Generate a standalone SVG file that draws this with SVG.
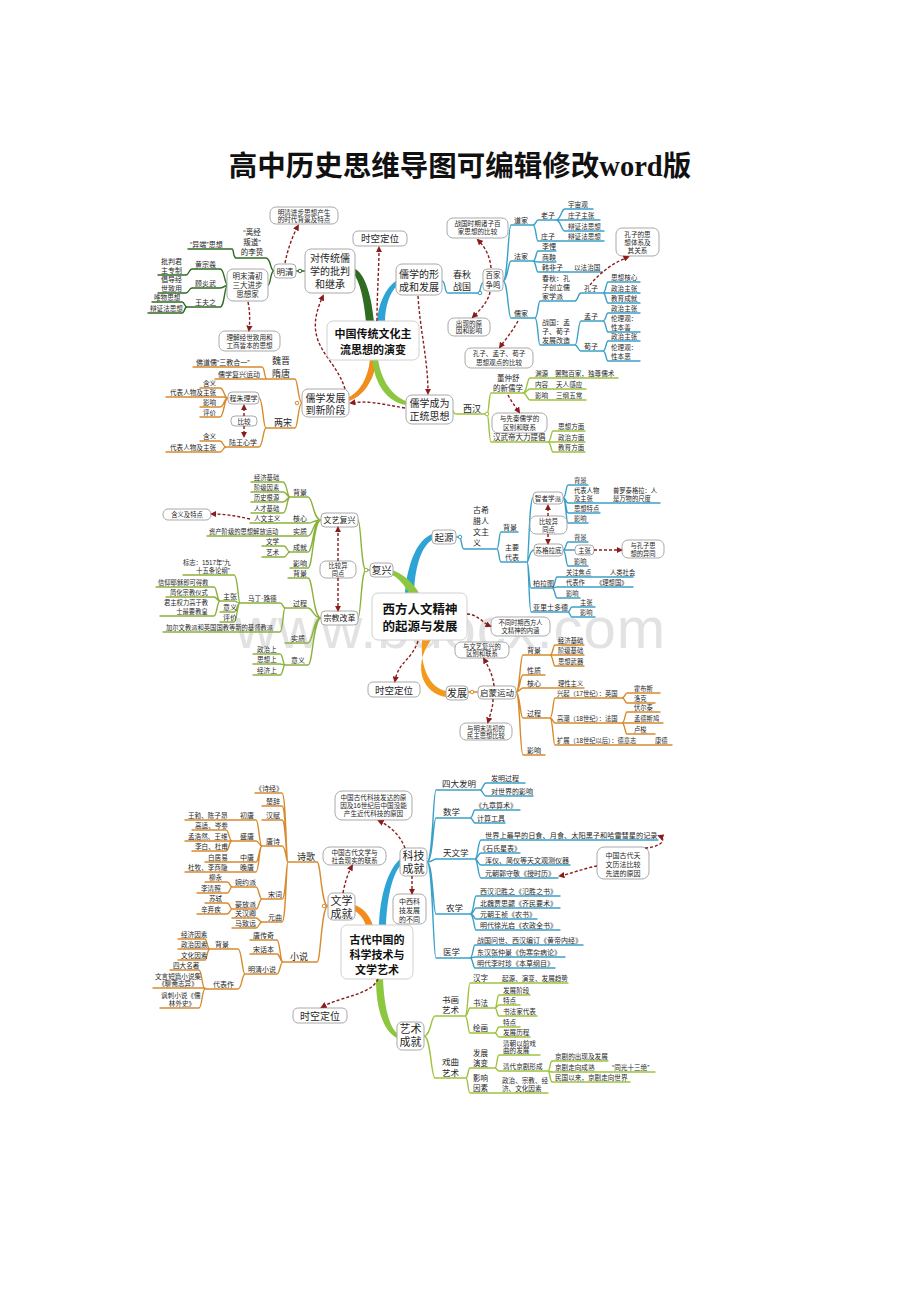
<svg xmlns="http://www.w3.org/2000/svg" width="920" height="1302" viewBox="0 0 920 1302">
<style>
text{font-family:"Liberation Sans","Noto Sans CJK SC",sans-serif;fill:#262626}
.m{text-anchor:middle}
.b{font-weight:bold;fill:#111}
.f6{font-size:6.3px}.f65{font-size:6.6px}.f7{font-size:7px}.f72{font-size:7.2px}.f75{font-size:7.5px}.f8{font-size:8px}.f85{font-size:8.5px}.f9{font-size:9px}.f95{font-size:9.5px}.f10{font-size:10px}.f11{font-size:11px}.f125{font-size:12.5px}
.bx{fill:#fff;stroke:#a9a9a9;stroke-width:1}
.cb{fill:#fff;stroke:#d0d0d0;stroke-width:1}
.L{fill:none;stroke-width:1.4;stroke-linecap:round;stroke-linejoin:round}
.dg{stroke:#2f6b21}.tl{stroke:#3aa0c9}.or{stroke:#d88b2c}.yg{stroke:#9dc33d}.og{stroke:#8db23c}
.dot{fill:#fff;stroke-width:1}
.da{fill:none;stroke:#8b1c1c;stroke-width:1.4;stroke-dasharray:3 2;marker-end:url(#ah)}
.wm{font-family:"Liberation Sans",sans-serif;font-size:58px;fill:#e2e2e2}
.ttl{font-family:"Liberation Serif","Noto Sans CJK SC",serif;font-size:28.5px;font-weight:bold;fill:#111}
</style>
<defs>
<marker id="ah" viewBox="0 0 10 10" refX="7" refY="5" markerWidth="4.5" markerHeight="4.5" orient="auto"><path d="M0,0 L10,5 L0,10 z" fill="#8b1c1c"/></marker>
</defs>
<rect width="920" height="1302" fill="#fff"/>
<text id="title" class="ttl m" x="460" y="176">高中历史思维导图可编辑修改word版</text>
<text id="watermark" class="wm" x="235" y="648" textLength="430" lengthAdjust="spacing">www.bdocx.com</text>

<!-- ================= MAP 1 ================= -->
<g id="map1">
<g id="m1-branches">
<path d="M353 268 C366 272 372 300 374 322 L366 322 C364 300 360 281 353 273 Z" fill="#2f6b21"/>
<path d="M397 280 C385 288 378 305 377 322 L385 322 C385 306 390 292 397 286 Z" fill="#2ea3d6"/>
<path d="M370 359 C368 380 358 393 349 397 L349 401 C362 397 374 382 377 359 Z" fill="#f28c1c"/>
<path d="M378 359 C381 380 392 396 406 401 L406 405 C388 402 375 386 372 359 Z" fill="#8dc63f"/>
</g>
<g id="m1-connectors">
<path class="L dg" d="M296 271 H305 M236 258 H266 C271 258 270 271 274 271 M268 285 C271 285 270 271 274 271 M188 249 H232 C234 249 233 258 236 258 M192 269 H220 C225 269 224 285 228 285 M192 288 H220 C225 288 224 285 228 285 M187 307 H220 C225 307 224 285 228 285 M158 275 H186 C189 275 189 269 192 269 M158 293 H186 C189 293 189 288 192 288 M152 302 H182 C185 302 184 307 187 307 M148 313 H182 C185 313 184 307 187 307"/>
<path class="L tl" d="M442 281 C446 281 444 293 448 293 H478 C481 293 480 283 483 283 M503 281 C508 281 508 225 511 225 H533 M503 281 C508 281 508 261 511 261 H533 M503 281 C508 281 508 318 511 318 H535 M533 225 C536 225 536 220 538 220 H556 M533 225 C536 225 536 241 538 241 H556 M556 220 C561 220 561 209 565 209 H593 M556 220 H600 M556 220 C561 220 561 231 565 231 H604 M556 241 H604 M533 261 C536 261 536 251 538 251 H556 M533 261 C536 261 536 262 538 262 H556 M533 261 C536 261 536 272 538 272 H602 M535 318 C538 318 538 301 540 301 H575 M535 318 C538 318 538 345 540 345 H575 M575 301 C578 301 578 293 581 293 H603 M603 293 C606 293 606 282 608 282 H640 M603 293 H640 M603 293 C606 293 606 303 608 303 H640 M575 345 C578 345 578 321 581 321 H603 M575 345 C578 345 578 351 581 351 H603 M603 321 C606 321 606 313 608 313 H640 M603 321 C606 321 606 332 608 332 H640 M603 351 C606 351 606 341 608 341 H640 M603 351 C606 351 606 361 608 361 H640"/>
<path class="L or" d="M267 379 H295 C298 379 298 403 302 403 M266 428 H295 C298 428 298 403 302 403 M193 367 H262 C265 367 264 379 267 379 M215 379 H267 M259 398 C263 398 263 428 266 428 M226 447 H259 C263 447 263 428 266 428 M200 388 H220 C224 388 224 398 228 398 M166 397 H224 C226 397 226 398 228 398 M200 407 H220 C224 407 224 398 228 398 M200 417 H220 C224 417 224 398 228 398 M200 441 H220 C223 441 223 447 226 447 M166 452 H220 C223 452 223 447 226 447"/>
<path class="L yg" d="M452 410 C454 410 453 414 456 414 H485 M487 414 C489 414 489 393 491 393 H523 M487 414 C489 414 489 442 491 442 H548 M523 393 C527 393 527 378 530 378 H618 M523 393 C527 393 527 389 530 389 H586 M523 393 C527 393 527 400 530 400 H586 M548 442 C551 442 551 431 553 431 H585 M548 442 H585 M548 442 C551 442 551 452 553 452 H585"/>
<circle class="dot dg" cx="300" cy="271" r="1.8"/>
<circle class="dot tl" cx="480" cy="293" r="1.8"/>
<circle class="dot yg" cx="487" cy="414" r="1.8"/>
<circle class="dot or" cx="297" cy="403" r="1.8"/>
</g>
<path class="da" d="M345 389 C335 355 300 345 323 296"/>
<g id="m1-center"><rect class="cb" x="327" y="321" width="92" height="39" rx="6"/><text class="f11 b m" x="373" y="338">中国传统文化主</text><text class="f11 b m" x="373" y="354">流思想的演变</text></g>
<g id="m1-pipan"><rect class="bx" x="305" y="249" width="50" height="44" rx="6"/><text class="f10 m" x="330" y="262">对传统儒</text><text class="f10 m" x="330" y="275">学的批判</text><text class="f10 m" x="330" y="288">和继承</text></g>
<g id="m1-shikong"><rect class="bx" x="353" y="231" width="54" height="15" rx="5"/><text class="f95 m" x="380" y="242">时空定位</text></g>
<g id="m1-xingcheng"><rect class="bx" x="396" y="264" width="46" height="31" rx="6"/><text class="f10 m" x="419" y="278">儒学的形</text><text class="f10 m" x="419" y="291">成和发展</text></g>
<g id="m1-xinjieduan"><rect class="bx" x="302" y="389" width="47" height="28" rx="6"/><text class="f10 m" x="325.5" y="401.5">儒学发展</text><text class="f10 m" x="325.5" y="413.5">到新阶段</text></g>
<g id="m1-zhengtong"><rect class="bx" x="406" y="395" width="47" height="29" rx="6"/><text class="f10 m" x="429.5" y="407">儒学成为</text><text class="f10 m" x="429.5" y="420">正统思想</text></g>
<g id="m1-mingqing"><rect class="bx" x="274" y="264" width="22" height="14" rx="4"/><text class="f85 m" x="285" y="274.5">明清</text></g>
<g id="m1-mqbox"><rect class="bx" x="270" y="207" width="68" height="17" rx="6"/><text class="f65 m" x="304" y="214.5">明清进步思想产生</text><text class="f65 m" x="304" y="221.5">的时代背景及特点</text></g>
<g id="m1-sanda"><rect class="bx" x="227" y="269" width="41" height="32" rx="6"/><text class="f75 m" x="247.5" y="279">明末清初</text><text class="f75 m" x="247.5" y="288">三大进步</text><text class="f75 m" x="247.5" y="297">思想家</text></g>
<g id="m1-jingshi"><rect class="bx" x="219" y="331" width="61" height="20" rx="6"/><text class="f65 m" x="249.5" y="339.5">理解经世致用和</text><text class="f65 m" x="249.5" y="347.5">工商皆本的思想</text></g>
<g id="m1-baijia"><rect class="bx" x="483" y="269" width="20" height="22" rx="4"/><text class="f75 m" x="493" y="278">百家</text><text class="f75 m" x="493" y="288">争鸣</text></g>
<g id="m1-zhuzibox"><rect class="bx" x="447" y="218" width="61" height="20" rx="6"/><text class="f65 m" x="477.5" y="226">战国时期诸子百</text><text class="f65 m" x="477.5" y="234">家思想的比较</text></g>
<g id="m1-kongzibox"><rect class="bx" x="616" y="228" width="43" height="28" rx="6"/><text class="f65 m" x="637.5" y="237">孔子的思</text><text class="f65 m" x="637.5" y="245">想体系及</text><text class="f65 m" x="637.5" y="253">其关系</text></g>
<g id="m1-yuanyinbox"><rect class="bx" x="448" y="318" width="42" height="18" rx="6"/><text class="f65 m" x="469" y="325.5">出现的原</text><text class="f65 m" x="469" y="333">因和影响</text></g>
<g id="m1-kmxbox"><rect class="bx" x="465" y="348" width="68" height="20" rx="6"/><text class="f65 m" x="499" y="356">孔子、孟子、荀子</text><text class="f65 m" x="499" y="364.5">思想观点的比较</text></g>
<g id="m1-xianqinbox"><rect class="bx" x="492" y="413" width="55" height="20" rx="6"/><text class="f65 m" x="519.5" y="421">与先秦儒学的</text><text class="f65 m" x="519.5" y="429.5">区别和联系</text></g>
<g id="m1-chengzhu"><rect class="bx" x="228" y="392" width="31" height="12" rx="4"/><text class="f7 m" x="243.5" y="401">程朱理学</text></g>
<g id="m1-bijiao"><rect class="bx" x="231" y="416" width="26" height="10" rx="4"/><text class="f65 m" x="244" y="423.5">比较</text></g>
<g id="m1-leaves-green">
<text class="f75 m" x="252" y="235">“离经</text><text class="f75 m" x="252" y="245">叛道”</text><text class="f75 m" x="252" y="255">的李贽</text>
<text class="f7" x="190" y="247">“异端”思想</text>
<text class="f7" x="195" y="267">黄宗羲</text><text class="f7" x="195" y="286">顾炎武</text><text class="f7" x="195" y="305">王夫之</text>
<text class="f7" x="161" y="264">批判君</text><text class="f7" x="161" y="273">主专制</text>
<text class="f7" x="161" y="282">倡导经</text><text class="f7" x="161" y="291">世致用</text>
<text class="f65" x="154" y="300">唯物思想</text><text class="f65" x="150" y="311">辩证法思想</text>
</g>
<g id="m1-leaves-teal">
<text class="f9 m" x="462" y="278">春秋</text><text class="f9 m" x="462" y="290">战国</text>
<text class="f7" x="514" y="223">道家</text><text class="f7" x="514" y="259">法家</text><text class="f7" x="514" y="316">儒家</text>
<text class="f7" x="541" y="218">老子</text><text class="f7" x="541" y="239">庄子</text>
<text class="f65" x="568" y="207">宇宙观</text><text class="f65" x="568" y="218">庄子主张</text><text class="f65" x="568" y="229">辩证法思想</text><text class="f65" x="568" y="239">辩证法思想</text>
<text class="f7" x="542" y="249">李悝</text><text class="f7" x="542" y="260">商鞅</text><text class="f7" x="542" y="270">韩非子</text>
<text class="f65" x="574" y="270">以法治国</text>
<text class="f7" x="542" y="281">春秋：孔</text><text class="f7" x="542" y="290">子创立儒</text><text class="f7" x="542" y="299">家学派</text>
<text class="f7" x="542" y="325">战国：孟</text><text class="f7" x="542" y="334">子、荀子</text><text class="f7" x="542" y="343">发展改造</text>
<text class="f7" x="584" y="291">孔子</text><text class="f7" x="584" y="319">孟子</text><text class="f7" x="584" y="349">荀子</text>
<text class="f65" x="611" y="280">思想核心</text><text class="f65" x="611" y="291">政治主张</text><text class="f65" x="611" y="301">教育成就</text>
<text class="f65" x="611" y="311">政治主张</text><text class="f65" x="611" y="321">伦理观：</text><text class="f65" x="611" y="330">性本善</text>
<text class="f65" x="611" y="339">政治主张</text><text class="f65" x="611" y="350">伦理观：</text><text class="f65" x="611" y="359">性本恶</text>
</g>
<g id="m1-leaves-orange">
<text class="f9" x="272" y="364">魏晋</text><text class="f9" x="272" y="377">隋唐</text><text class="f9" x="274" y="426">两宋</text>
<text class="f7" x="196" y="365">佛道儒“三教合一”</text><text class="f7" x="218" y="377">儒学复兴运动</text>
<text class="f65" x="203" y="386">含义</text><text class="f65" x="170" y="395">代表人物及主张</text><text class="f65" x="203" y="405">影响</text><text class="f65" x="203" y="415">评价</text>
<text class="f7" x="229" y="445">陆王心学</text>
<text class="f65" x="203" y="439">含义</text><text class="f65" x="170" y="450">代表人物及主张</text>
</g>
<g id="m1-leaves-lightgreen">
<text class="f9" x="463" y="412">西汉</text>
<text class="f75" x="497" y="381">董仲舒</text><text class="f75" x="493" y="391">的新儒学</text><text class="f75" x="493" y="440">汉武帝大力提倡</text>
<text class="f65" x="535" y="376">渊源</text><text class="f65" x="535" y="387">内容</text><text class="f65" x="535" y="398">影响</text>
<text class="f65" x="555" y="376">罢黜百家，独尊儒术</text><text class="f65" x="556" y="387">天人感应</text><text class="f65" x="556" y="398">三纲五常</text>
<text class="f65" x="558" y="429">思想方面</text><text class="f65" x="558" y="440">政治方面</text><text class="f65" x="558" y="450">教育方面</text>
</g>
<g id="m1-arrows">
<path class="da" d="M285 263 C288 248 293 235 298 226"/>
<path class="da" d="M248 302 C250 312 250 320 249 330"/>
<path class="da" d="M491 268 C490 255 484 246 478 240"/>
<path class="da" d="M490 292 C488 302 480 310 473 317"/>
<path class="da" d="M590 285 C600 272 615 262 628 257"/>
<path class="da" d="M518 321 C512 332 505 340 500 347"/>
<path class="da" d="M418 296 C420 330 428 360 428 393"/>
<path class="da" d="M405 408 C385 405 370 400 351 403"/>
<path class="da" d="M377 321 C377 292 379 270 379 248"/>
<path class="da" d="M508 395 C511 401 515 406 519 412"/>
<path class="da" d="M244 416 V406"/>
<path class="da" d="M244 426 V436"/>
</g>
</g>

<!-- ================= MAP 2 ================= -->
<g id="map2">
<g id="m2-branches">
<path d="M405 593 C408 560 418 540 432 534 L432 540 C422 546 415 565 414 593 Z" fill="#2ea3d6"/>
<path d="M392 570 C404 574 413 583 419 593 L409 593 C404 585 399 578 392 575 Z" fill="#8dc63f"/>
<path d="M422 640 C420 668 430 688 446 691 L446 697 C424 694 411 668 431 640 Z" fill="#f39a1e"/>
</g>
<g id="m2-connectors">
<path class="L tl" d="M456 537 H459 C462 537 461 549 464 549 H497 M497 549 C499 549 499 532 501 532 H518 M497 549 C499 549 499 562 501 562 H527 M527 562 C529 562 529 498 533 498 M527 562 C529 562 529 550 534 550 M527 562 C529 562 529 588 531 588 H552 M527 562 C529 562 529 612 531 612 H568 M563 498 C566 498 566 485 568 485 H588 M563 498 C566 498 566 503 568 503 H660 M563 498 C566 498 566 513 568 513 H600 M563 498 C566 498 566 523 568 523 H588 M563 550 C566 550 566 542 568 542 H588 M563 550 H575 M563 550 C566 550 566 566 568 566 H588 M552 588 C555 588 555 577 557 577 H633 M552 588 C555 588 555 587 557 587 H633 M552 588 C555 588 555 598 557 598 H580 M568 612 C570 612 570 607 572 607 H595 M568 612 C570 612 570 617 572 617 H595"/>
<path class="L og" d="M370 570 H366 C361 570 361 520 358 520 M366 570 C361 570 361 618 358 618 M290 497 H308 C313 497 313 520 321 520 M290 523 H308 C313 523 313 520 321 520 M290 536 H308 C313 536 313 520 321 520 M290 552 H308 C313 552 313 520 321 520 M290 568 H308 C313 568 313 520 321 520 M251 482 H283 C287 482 287 497 290 497 M251 492 H283 C287 492 287 497 290 497 M251 502 H283 C287 502 287 497 290 497 M251 513 H283 C287 513 287 497 290 497 M250 523 H290 M207 536 H290 M262 546 H284 C287 546 287 552 290 552 M262 557 H284 C287 557 287 552 290 552 M288 578 H308 C313 578 313 618 321 618 M285 608 H308 C313 608 313 618 321 618 M285 643 H308 C313 643 313 618 321 618 M285 665 H308 C313 665 313 618 321 618 M240 603 H280 C283 603 283 608 285 608 M163 632 H280 C283 632 283 608 285 608 M183 575 H234 C238 575 238 603 240 603 M220 601 H234 C237 601 237 603 240 603 M220 612 H234 C237 612 237 603 240 603 M220 622 H234 C237 622 237 603 240 603 M156 587 H214 C217 587 217 601 220 601 M166 597 H214 C217 597 217 601 220 601 M160 616 H214 C217 616 217 601 220 601 M253 654 H280 C283 654 283 665 285 665 M253 664 H280 C283 664 283 665 285 665 M253 675 H280 C283 675 283 665 285 665"/>
<path class="L or" d="M468 692 H478 M516 692 C520 692 520 655 523 655 H550 M516 692 C520 692 520 675 523 675 H545 M516 692 C520 692 520 688 523 688 H550 M516 692 C520 692 520 718 523 718 H550 M516 692 C520 692 520 755 523 755 H545 M550 655 C553 655 553 645 555 645 H584 M550 655 H584 M550 655 C553 655 553 666 555 666 H584 M550 688 H584 M550 718 C553 718 553 698 555 698 H622 M550 718 C553 718 553 723 555 723 H622 M550 718 C553 718 553 745 555 745 H647 M622 698 C625 698 625 693 627 693 H660 M622 698 C625 698 625 703 627 703 H655 M622 723 C625 723 625 712 627 712 H660 M622 723 H663 M622 723 C625 723 625 734 627 734 H655 M647 745 H672"/>
<circle class="dot tl" cx="460" cy="537" r="1.8"/>
<circle class="dot og" cx="366" cy="570" r="1.8"/>
<circle class="dot or" cx="472" cy="692" r="1.8"/>
</g>
<g id="m2-center"><rect class="cb" x="372" y="593" width="95" height="47" rx="6"/><text class="f125 b m" x="420" y="614">西方人文精神</text><text class="f125 b m" x="420" y="631">的起源与发展</text></g>
<g id="m2-qiyuan"><rect class="bx" x="432" y="530" width="24" height="14" rx="4"/><text class="f95 m" x="444" y="541">起源</text></g>
<g id="m2-zhizhe"><rect class="bx" x="533" y="492" width="30" height="12" rx="4"/><text class="f65 m" x="548" y="500.5">智者学派</text></g>
<g id="m2-bijiao1"><rect class="bx" x="530" y="516" width="37" height="18" rx="6"/><text class="f6 m" x="548.5" y="523.5">比较异</text><text class="f6 m" x="548.5" y="531.5">同点</text></g>
<g id="m2-sugeladi"><rect class="bx" x="534" y="544" width="29" height="12" rx="4"/><text class="f65 m" x="548.5" y="552.5">苏格拉底</text></g>
<g id="m2-zhuzhang"><rect class="bx" x="575" y="545" width="19" height="10" rx="4"/><text class="f6 m" x="584.5" y="552.5">主张</text></g>
<g id="m2-kongzi"><rect class="bx" x="622" y="540" width="42" height="18" rx="6"/><text class="f6 m" x="643" y="547.5">与孔子思</text><text class="f6 m" x="643" y="555.5">想的异同</text></g>
<g id="m2-fuxing"><rect class="bx" x="370" y="563" width="23" height="14" rx="4"/><text class="f10 m" x="381.5" y="574">复兴</text></g>
<g id="m2-wenyi"><rect class="bx" x="321" y="513" width="37" height="14" rx="4"/><text class="f8 m" x="339.5" y="523">文艺复兴</text></g>
<g id="m2-bijiao2"><rect class="bx" x="320" y="561" width="36" height="17" rx="6"/><text class="f6 m" x="338" y="568">比较异</text><text class="f6 m" x="338" y="575.5">同点</text></g>
<g id="m2-zongjiao"><rect class="bx" x="321" y="611" width="37" height="14" rx="4"/><text class="f8 m" x="339.5" y="621">宗教改革</text></g>
<g id="m2-hanyi"><rect class="bx" x="163" y="509" width="48" height="11" rx="5"/><text class="f6 m" x="187" y="517">含义及特点</text></g>
<g id="m2-shikong"><rect class="bx" x="368" y="682" width="52" height="15" rx="5"/><text class="f95 m" x="394" y="693.5">时空定位</text></g>
<g id="m2-butong"><rect class="bx" x="491" y="617" width="59" height="19" rx="6"/><text class="f6 m" x="520.5" y="625">不同时期西方人</text><text class="f6 m" x="520.5" y="633">文精神的内涵</text></g>
<g id="m2-fazhan"><rect class="bx" x="446" y="686" width="22" height="14" rx="4"/><text class="f10 m" x="457" y="697">发展</text></g>
<g id="m2-qimeng"><rect class="bx" x="478" y="686" width="38" height="13" rx="4"/><text class="f85 m" x="497" y="695.5">启蒙运动</text></g>
<g id="m2-wenyibox"><rect class="bx" x="455" y="642" width="54" height="16" rx="6"/><text class="f6 m" x="482" y="649">与文艺复兴的</text><text class="f6 m" x="482" y="656">区别和联系</text></g>
<g id="m2-mingmobox"><rect class="bx" x="460" y="723" width="52" height="17" rx="6"/><text class="f6 m" x="486" y="730.5">与明末清初的</text><text class="f6 m" x="486" y="738">民主思想比较</text></g>
<g id="m2-leaves-teal">
<text class="f8" x="473" y="513">古希</text><text class="f8" x="473" y="524">腊人</text><text class="f8" x="473" y="535">文主</text><text class="f8" x="473" y="546">义</text>
<text class="f7" x="503" y="530">背景</text><text class="f7" x="505" y="550">主要</text><text class="f7" x="505" y="560">代表</text>
<text class="f6" x="574" y="483">背景</text><text class="f6" x="574" y="493">代表人物</text><text class="f6" x="574" y="501">及主张</text><text class="f6" x="574" y="511">思想特点</text><text class="f6" x="574" y="521">影响</text>
<text class="f6" x="613" y="493">普罗泰格拉：人</text><text class="f6" x="613" y="501">是万物的尺度</text>
<text class="f6" x="574" y="540">背景</text><text class="f6" x="574" y="564">影响</text>
<text class="f7" x="533" y="586">柏拉图</text><text class="f7" x="533" y="610">亚里士多德</text>
<text class="f6" x="566" y="575">关注焦点</text><text class="f6" x="566" y="585">代表作</text><text class="f6" x="566" y="596">影响</text>
<text class="f6" x="610" y="575">人类社会</text><text class="f6" x="596" y="585">《理想国》</text>
<text class="f6" x="580" y="605">主张</text><text class="f6" x="580" y="615">影响</text>
</g>
<g id="m2-leaves-green">
<text class="f7" x="293" y="495">背景</text><text class="f7" x="293" y="521">核心</text><text class="f7" x="293" y="534">实质</text><text class="f7" x="293" y="550">成就</text><text class="f7" x="293" y="566">影响</text>
<text class="f6" x="254" y="480">经济基础</text><text class="f6" x="254" y="490">阶级因素</text><text class="f6" x="254" y="500">历史根源</text><text class="f6" x="254" y="511">人才基础</text>
<text class="f65" x="254" y="521">人文主义</text>
<text class="f6" x="209" y="534">资产阶级的思想解放运动</text>
<text class="f65" x="266" y="544">文学</text><text class="f65" x="266" y="555">艺术</text>
<text class="f7" x="293" y="576">背景</text><text class="f7" x="293" y="606">过程</text><text class="f7" x="291" y="641">实质</text><text class="f7" x="291" y="663">意义</text>
<text class="f65" x="248" y="601">马丁·路德</text>
<text class="f6" x="166" y="630">加尔文教派和英国国教等新的基督教派</text>
<text class="f6" x="183" y="565">标志：1517年“九</text><text class="f6 m" x="213" y="572.5">十五条论纲”</text>
<text class="f7" x="223" y="599">主张</text><text class="f7" x="223" y="610">意义</text><text class="f7" x="223" y="620">评价</text>
<text class="f6" x="158" y="585">信仰耶稣即可得救</text><text class="f6" x="170" y="595">简化宗教仪式</text><text class="f6" x="164" y="605">君主权力高于教</text><text class="f6 m" x="192" y="614">士最要教皇</text>
<text class="f65" x="257" y="652">政治上</text><text class="f65" x="257" y="662">思想上</text><text class="f65" x="257" y="673">经济上</text>
</g>
<g id="m2-leaves-orange">
<text class="f7" x="527" y="653">背景</text><text class="f7" x="527" y="673">性质</text><text class="f7" x="527" y="686">核心</text><text class="f7" x="527" y="716">过程</text><text class="f7" x="527" y="753">影响</text>
<text class="f6" x="558" y="643">经济基础</text><text class="f6" x="558" y="653">阶级基础</text><text class="f6" x="558" y="664">思想武器</text><text class="f6" x="558" y="686">理性主义</text>
<text class="f6" x="557" y="696">兴起（17世纪）：英国</text><text class="f6" x="557" y="721">高潮（18世纪）：法国</text><text class="f6" x="557" y="743">扩展（18世纪以后）：德意志</text>
<text class="f6" x="634" y="691">霍布斯</text><text class="f6" x="634" y="701">洛克</text><text class="f6" x="634" y="710">伏尔泰</text><text class="f6" x="634" y="721">孟德斯鸠</text><text class="f6" x="634" y="732">卢梭</text><text class="f6" x="655" y="743">康德</text>
</g>
<g id="m2-arrows">
<path class="da" d="M418 641 C412 660 398 662 395 681"/>
<path class="da" d="M467 614 C477 614 483 623 490 626"/>
<path class="da" d="M494 686 C493 675 488 666 484 659"/>
<path class="da" d="M493 699 C493 708 490 715 488 722"/>
<path class="da" d="M250 519 C236 516 226 514 212 514"/>
<path class="da" d="M548 516 V506"/>
<path class="da" d="M548 534 V543"/>
<path class="da" d="M594 550 H621"/>
<path class="da" d="M338 561 V528"/>
<path class="da" d="M338 578 V610"/>
</g>
</g>

<!-- ================= MAP 3 ================= -->
<g id="map3">
<g id="m3-branches">
<path d="M355 905 C365 909 371 918 373 926 L366 926 C364 919 360 914 355 911 Z" fill="#f28c1c"/>
<path d="M400 859 C388 870 380 895 379 926 L386 926 C387 898 392 876 400 866 Z" fill="#2ea3d6"/>
<path d="M383 979 C384 1005 389 1027 397 1033 L397 1038 C383 1031 376 1008 376 979 Z" fill="#8dc63f"/>
</g>
<g id="m3-connectors">
<path class="L or" d="M288 862 H317 C321 862 321 906 328 906 M283 962 H317 C321 962 321 906 328 906 M255 793 H282 C286 793 286 862 288 862 M262 806 H282 C286 806 286 862 288 862 M262 820 H282 C286 820 286 862 288 862 M262 846 H282 C286 846 286 862 288 862 M262 899 H282 C286 899 286 862 288 862 M262 922 H282 C286 922 286 862 288 862 M232 820 H256 C259 820 259 846 262 846 M232 841 H256 C259 841 259 846 262 846 M232 862 H256 C259 862 259 846 262 846 M232 872 H256 C259 872 259 846 262 846 M185 820 H232 M192 830 H226 C229 830 229 841 232 841 M185 841 H232 M192 851 H226 C229 851 229 841 232 841 M205 862 H232 M185 872 H232 M232 887 H256 C259 887 259 899 262 899 M232 909 H256 C259 909 259 899 262 899 M205 882 H227 C230 882 230 887 232 887 M197 893 H227 C230 893 230 887 232 887 M205 903 H227 C230 903 230 909 232 909 M197 914 H227 C230 914 230 909 232 909 M232 918 H256 C259 918 259 922 262 922 M232 928 H256 C259 928 259 922 262 922 M250 940 H277 C280 940 280 962 283 962 M250 954 H277 C280 954 280 962 283 962 M245 974 H277 C280 974 280 962 283 962 M210 949 H238 C242 949 242 974 245 974 M205 989 H238 C242 989 242 974 245 974 M178 939 H205 C207 939 207 949 210 949 M178 949 H210 M178 960 H205 C207 960 207 949 210 949 M170 970 H199 C202 970 202 989 205 989 M153 988 H205 M160 1008 H199 C202 1008 202 989 205 989"/>
<path class="L tl" d="M427 862 C433 862 433 790 436 790 H480 M427 862 C433 862 433 818 436 818 H470 M427 862 C433 862 433 859 436 859 H475 M427 862 C433 862 433 914 436 914 H470 M427 862 C433 862 433 958 436 958 H470 M480 790 C483 790 483 783 486 783 H525 M480 790 C483 790 483 796 486 796 H533 M470 818 C473 818 473 810 475 810 H520 M470 818 C473 818 473 823 475 823 H505 M475 859 C478 859 478 840 481 840 H658 M475 859 C478 859 478 853 481 853 H520 M475 859 C478 859 478 865 481 865 H570 M475 859 C478 859 478 878 481 878 H558 M470 914 C474 914 474 896 476 896 H560 M470 914 C474 914 474 908 476 908 H560 M470 914 C474 914 474 919 476 919 H537 M470 914 C474 914 474 930 476 930 H560 M470 958 C473 958 473 945 475 945 H583 M470 958 C473 958 473 957 475 957 H565 M470 958 C473 958 473 968 475 968 H555"/>
<path class="L yg" d="M424 1036 C431 1036 431 1016 435 1016 H465 M424 1036 C431 1036 431 1078 435 1078 H466 M465 1016 C468 1016 468 983 470 983 H568 M465 1016 C468 1016 468 1008 470 1008 H495 M465 1016 C468 1016 468 1033 470 1033 H495 M495 1008 C497 1008 497 995 499 995 H530 M495 1008 C497 1008 497 1005 499 1005 H520 M495 1008 C497 1008 497 1016 499 1016 H537 M495 1033 C497 1033 497 1027 499 1027 H520 M495 1033 C497 1033 497 1037 499 1037 H530 M466 1078 C468 1078 468 1068 470 1068 H495 M466 1078 C468 1078 468 1093 470 1093 H548 M495 1068 C497 1068 497 1055 499 1055 H540 M495 1068 C497 1068 497 1071 499 1071 H548 M548 1071 C550 1071 550 1061 552 1061 H608 M548 1071 C550 1071 550 1072 552 1072 H655 M548 1071 C550 1071 550 1082 552 1082 H630"/>
<circle class="dot or" cx="324" cy="906" r="1.8"/>
</g>
<g id="m3-center"><rect class="cb" x="341" y="925" width="72" height="54" rx="6"/><text class="f11 b m" x="377" y="944">古代中国的</text><text class="f11 b m" x="377" y="959">科学技术与</text><text class="f11 b m" x="377" y="974">文学艺术</text></g>
<g id="m3-keji"><rect class="bx" x="400" y="848" width="27" height="28" rx="5"/><text class="f11 m" x="413.5" y="859.5">科技</text><text class="f11 m" x="413.5" y="872.5">成就</text></g>
<g id="m3-wenxue"><rect class="bx" x="328" y="893" width="27" height="27" rx="5"/><text class="f11 m" x="341.5" y="905">文学</text><text class="f11 m" x="341.5" y="917.5">成就</text></g>
<g id="m3-yishu"><rect class="bx" x="397" y="1022" width="27" height="28" rx="5"/><text class="f11 m" x="410.5" y="1033">艺术</text><text class="f11 m" x="410.5" y="1046">成就</text></g>
<g id="m3-kejibox"><rect class="bx" x="335" y="791" width="77" height="29" rx="7"/><text class="f65 m" x="373.5" y="800">中国古代科技发达的原</text><text class="f65 m" x="373.5" y="808">因及16世纪后中国没能</text><text class="f65 m" x="373.5" y="816">产生近代科技的原因</text></g>
<g id="m3-zhongxi"><rect class="bx" x="393" y="894" width="33" height="30" rx="6"/><text class="f7 m" x="409.5" y="904">中西科</text><text class="f7 m" x="409.5" y="913">技发展</text><text class="f7 m" x="409.5" y="922">的不同</text></g>
<g id="m3-wenxuebox"><rect class="bx" x="323" y="847" width="63" height="18" rx="7"/><text class="f65 m" x="354.5" y="855">中国古代文学与</text><text class="f65 m" x="354.5" y="863">社会现实的联系</text></g>
<g id="m3-tianwenbox"><rect class="bx" x="597" y="847" width="52" height="32" rx="7"/><text class="f7 m" x="623" y="858">中国古代天</text><text class="f7 m" x="623" y="867">文历法比较</text><text class="f7 m" x="623" y="876">先进的原因</text></g>
<g id="m3-shikong"><rect class="bx" x="293" y="1008" width="54" height="15" rx="5"/><text class="f10 m" x="320" y="1019.5">时空定位</text></g>
<g id="m3-leaves-orange">
<text class="f9" x="297" y="860">诗歌</text><text class="f9" x="290" y="960">小说</text>
<text class="f7" x="255" y="791">《诗经》</text><text class="f7" x="266" y="804">楚辞</text><text class="f7" x="266" y="818">汉赋</text><text class="f7" x="266" y="844">唐诗</text><text class="f7" x="268" y="897">宋词</text><text class="f7" x="268" y="920">元曲</text>
<text class="f7" x="240" y="818">初唐</text><text class="f7" x="240" y="839">盛唐</text><text class="f7" x="240" y="860">中唐</text><text class="f7" x="240" y="870">晚唐</text>
<text class="f65" x="188" y="818">王勃、陈子昂</text><text class="f65" x="195" y="828">高适、岑参</text><text class="f65" x="188" y="839">孟浩然、王维</text><text class="f65" x="195" y="849">李白、杜甫</text><text class="f65" x="208" y="860">白居易</text><text class="f65" x="188" y="870">杜牧、李商隐</text>
<text class="f7" x="235" y="885">婉约派</text><text class="f7" x="235" y="907">豪放派</text>
<text class="f65" x="209" y="880">柳永</text><text class="f65" x="201" y="891">李清照</text><text class="f65" x="209" y="901">苏轼</text><text class="f65" x="201" y="912">辛弃疾</text>
<text class="f7" x="235" y="916">关汉卿</text><text class="f7" x="235" y="926">马致远</text>
<text class="f7" x="253" y="938">唐传奇</text><text class="f7" x="253" y="952">宋话本</text><text class="f7" x="248" y="972">明清小说</text>
<text class="f7" x="215" y="947">背景</text><text class="f7" x="213" y="987">代表作</text>
<text class="f65" x="181" y="937">经济因素</text><text class="f65" x="181" y="947">政治因素</text><text class="f65" x="181" y="958">文化因素</text>
<text class="f65" x="173" y="968">四大名著</text><text class="f65" x="155" y="979">文言短篇小说集</text><text class="f65 m" x="178" y="986">《聊斋志异》</text><text class="f65" x="161" y="998">讽刺小说《儒</text><text class="f65 m" x="182" y="1006">林外史》</text>
</g>
<g id="m3-leaves-teal">
<text class="f85" x="442" y="787">四大发明</text><text class="f85" x="443" y="815">数学</text><text class="f85" x="443" y="856">天文学</text><text class="f85" x="446" y="911">农学</text><text class="f85" x="443" y="955">医学</text>
<text class="f7" x="491" y="781">发明过程</text><text class="f7" x="491" y="794">对世界的影响</text>
<text class="f7" x="475" y="808">《九章算术》</text><text class="f7" x="477" y="821">计算工具</text>
<text class="f72" x="485" y="838">世界上最早的日食、月食、太阳黑子和哈雷彗星的记录</text>
<text class="f7" x="479" y="851">《石氏星表》</text><text class="f7" x="485" y="863">浑仪、简仪等天文观测仪器</text><text class="f7" x="485" y="876">元朝郭守敬《授时历》</text>
<text class="f7" x="480" y="894">西汉氾胜之《氾胜之书》</text><text class="f7" x="480" y="906">北魏贾思勰《齐民要术》</text><text class="f7" x="480" y="917">元朝王祯《农书》</text><text class="f7" x="480" y="928">明代徐光启《农政全书》</text>
<text class="f7" x="477" y="943">战国问世、西汉编订《黄帝内经》</text><text class="f7" x="477" y="955">东汉张仲景《伤寒杂病论》</text><text class="f7" x="477" y="966">明代李时珍《本草纲目》</text>
</g>
<g id="m3-leaves-green">
<text class="f85" x="442" y="1003">书画</text><text class="f85" x="442" y="1013">艺术</text><text class="f85" x="442" y="1065">戏曲</text><text class="f85" x="442" y="1076">艺术</text>
<text class="f75" x="473" y="981">汉字</text><text class="f75" x="473" y="1006">书法</text><text class="f75" x="473" y="1031">绘画</text>
<text class="f75" x="473" y="1056">发展</text><text class="f75" x="473" y="1066">演变</text><text class="f75" x="473" y="1081">影响</text><text class="f75" x="473" y="1091">因素</text>
<text class="f65" x="502" y="981">起源、演变、发展趋势</text>
<text class="f65" x="503" y="993">发展阶段</text><text class="f65" x="503" y="1003">特点</text><text class="f65" x="503" y="1014">书法家代表</text>
<text class="f65" x="503" y="1025">特点</text><text class="f65" x="503" y="1035">发展历程</text>
<text class="f65" x="503" y="1046">清朝以前戏</text><text class="f65" x="503" y="1053">曲的发展</text><text class="f65" x="503" y="1069">清代京剧形成</text>
<text class="f65" x="555" y="1059">京剧的出现及发展</text><text class="f65" x="555" y="1070">京剧走向成熟</text><text class="f65" x="555" y="1080">民国以来，京剧走向世界</text><text class="f65" x="612" y="1070">“同光十三绝”</text>
<text class="f65" x="502" y="1083">政治、宗教、经</text><text class="f65" x="502" y="1091">济、文化因素</text>
</g>
<g id="m3-arrows">
<path class="da" d="M405 848 C400 835 390 826 379 821"/>
<path class="da" d="M412 876 V893"/>
<path class="da" d="M597 866 C585 868 570 874 560 876"/>
<path class="da" d="M645 848 C662 847 667 839 659 836"/>
<path class="da" d="M343 893 C345 882 348 873 352 866"/>
<path class="da" d="M378 979 C371 995 342 996 322 1007"/>
</g>
</g>
</svg>
